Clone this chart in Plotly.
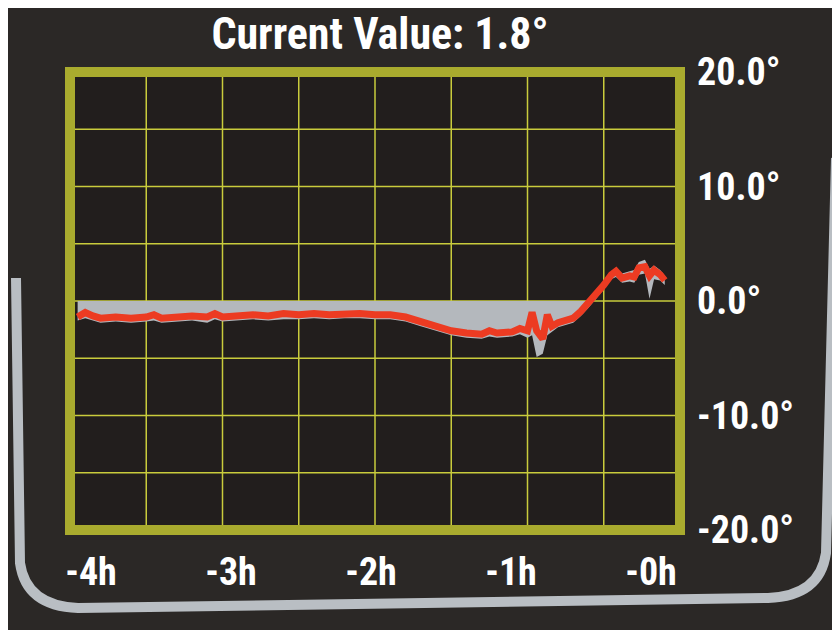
import plotly.graph_objects as go

# ---- data ----
hours = [-3.95, -3.9, -3.85, -3.8, -3.7, -3.6, -3.5, -3.45, -3.4, -3.3, -3.2, -3.1, -3.05, -3.0,
         -2.9, -2.8, -2.7, -2.6, -2.5, -2.4, -2.3, -2.2, -2.1, -2.0, -1.9, -1.8, -1.7, -1.6,
         -1.5, -1.4, -1.3, -1.25, -1.2, -1.1, -1.05, -1.0, -0.97, -0.94, -0.9, -0.87, -0.84,
         -0.8, -0.75, -0.7, -0.65, -0.6, -0.55, -0.5, -0.45, -0.42, -0.38, -0.33, -0.3, -0.27,
         -0.23, -0.2, -0.17, -0.13, -0.1]
avg = [-1.4, -1.0, -1.3, -1.5, -1.4, -1.5, -1.4, -1.2, -1.5, -1.4, -1.3, -1.4, -1.1, -1.4,
       -1.3, -1.2, -1.3, -1.1, -1.2, -1.1, -1.2, -1.1, -1.1, -1.2, -1.2, -1.4, -1.8, -2.2,
       -2.6, -2.8, -2.9, -2.6, -2.8, -2.7, -2.4, -2.6, -1.0, -2.6, -3.3, -1.2, -2.2,
       -1.9, -1.7, -1.5, -0.9, -0.2, 0.6, 1.4, 2.3, 2.6, 2.0, 2.2, 2.1, 2.9,
       3.0, 2.2, 2.7, 2.3, 1.8]
upper = [0.0, 0.0, 0.0, 0.0, 0.0, 0.0, 0.0, 0.0, 0.0, 0.0, 0.0, 0.0, 0.0, 0.0,
         0.0, 0.0, 0.0, 0.0, 0.0, 0.0, 0.0, 0.0, 0.0, 0.0, 0.0, 0.0, 0.0, 0.0,
         0.0, 0.0, 0.0, 0.0, 0.0, 0.0, 0.0, 0.0, 0.0, 0.0, 0.0, 0.0, 0.0,
         0.0, 0.0, 0.0, 0.0, 0.0, 0.9, 1.7, 2.6, 2.9, 2.4, 2.6, 2.7, 3.4,
         3.6, 2.8, 3.1, 2.7, 2.2]
lower = [-1.7, -1.5, -1.7, -1.9, -1.8, -1.9, -1.8, -1.7, -1.9, -1.8, -1.7, -1.9, -1.6, -1.8,
         -1.7, -1.6, -1.7, -1.6, -1.6, -1.5, -1.6, -1.5, -1.5, -1.6, -1.6, -1.8, -2.2, -2.6,
         -3.0, -3.2, -3.3, -3.1, -3.2, -3.1, -2.9, -3.2, -3.0, -4.9, -4.6, -3.0, -2.7,
         -2.3, -2.1, -1.9, -1.3, -0.6, 0.2, 1.0, 1.9, 2.1, 1.6, 1.7, 1.6, 2.3,
         2.4, 0.2, 1.9, 1.8, 1.4]

x_ticks = [-4, -3, -2, -1, 0]
x_tick_labels = ["-4h", "-3h", "-2h", "-1h", "-0h"]
y_ticks = [20, 10, 0, -10, -20]
y_tick_labels = ["20.0°", "10.0°", "0.0°", "-10.0°", "-20.0°"]
title_text = "Current Value: 1.8°"

# ---- layout geometry ----
W, H = 840, 630
L, R, T, B = 62, 168, 64, 108
PW, PH = W - L - R, H - T - B

def px(x):
    return (x - L) / PW

def py(y):
    return (H - B - y) / PH

FONT = "Liberation Sans Narrow, Roboto Condensed, Liberation Sans, Arial"

fig = go.Figure()
fig.add_trace(go.Scatter(x=hours, y=lower, mode="lines", line=dict(width=0, color="#b4b8bd"),
                         hoverinfo="skip", showlegend=False))
fig.add_trace(go.Scatter(x=hours, y=upper, mode="lines", line=dict(width=0, color="#b4b8bd"),
                         fill="tonexty", fillcolor="#b4b8bd", hoverinfo="skip", showlegend=False))
fig.add_trace(go.Scatter(x=hours, y=avg, mode="lines", line=dict(width=7, color="#ec3b22"),
                         showlegend=False))
# invisible trace carrying the (perspective-narrowed) bottom time labels
fig.add_trace(go.Scatter(x=hours, y=avg, xaxis="x2", mode="lines", opacity=0,
                         hoverinfo="skip", showlegend=False))

bezel = (f"M {px(8)},{py(270)} L {px(12)},{py(555)} Q {px(18)},{py(598)} {px(70)},{py(600)} "
         f"L {px(760)},{py(590)} Q {px(812)},{py(588)} {px(818)},{py(545)} L {px(828)},{py(150)}")

# bottom labels: -4h at ~83px, 0h at ~643px
lab_slope = 140.0
r0 = -4 - (83 - L) / lab_slope
r1 = r0 + PW / lab_slope

fig.update_layout(
    width=W, height=H,
    margin=dict(l=L, r=R, t=T, b=B),
    paper_bgcolor="#2b2826",
    plot_bgcolor="#221e1d",
    title=dict(text=title_text, x=372 / W, xanchor="center", y=1 - 26 / H, yanchor="middle",
               font=dict(family=FONT, size=44, color="#ffffff", weight="bold")),
    xaxis=dict(range=[-4, 0], showticklabels=False, showgrid=False, zeroline=False, ticks=""),
    xaxis2=dict(range=[r0, r1], overlaying="x", side="bottom", tickvals=x_ticks,
                ticktext=x_tick_labels, showgrid=False, zeroline=False, ticks="",
                ticklabelstandoff=16,
                tickfont=dict(family=FONT, size=38, color="#ffffff", weight="bold")),
    yaxis=dict(range=[-20, 20], side="right", tickvals=y_ticks, ticktext=y_tick_labels,
               showgrid=False, zeroline=False, ticks="", ticklabelstandoff=16,
               tickfont=dict(family=FONT, size=38, color="#ffffff", weight="bold")),
    shapes=[
        *[dict(type="line", xref="x", yref="paper", x0=g, x1=g, y0=0, y1=1,
               line=dict(color="#c9cc3c", width=1.5), layer="below")
          for g in [-3.5, -3, -2.5, -2, -1.5, -1, -0.5]],
        *[dict(type="line", xref="paper", yref="y", x0=0, x1=1, y0=g, y1=g,
               line=dict(color="#c9cc3c", width=1.5), layer="below")
          for g in [-15, -10, -5, 0, 5, 10, 15]],
        dict(type="rect", xref="paper", yref="paper", x0=0, x1=1, y0=0, y1=1,
             line=dict(color="#a9ab2e", width=10)),
        dict(type="path", xref="paper", yref="paper", path=bezel,
             line=dict(color="#b9bec3", width=10)),
    ],
)

fig.write_html("out.html")
